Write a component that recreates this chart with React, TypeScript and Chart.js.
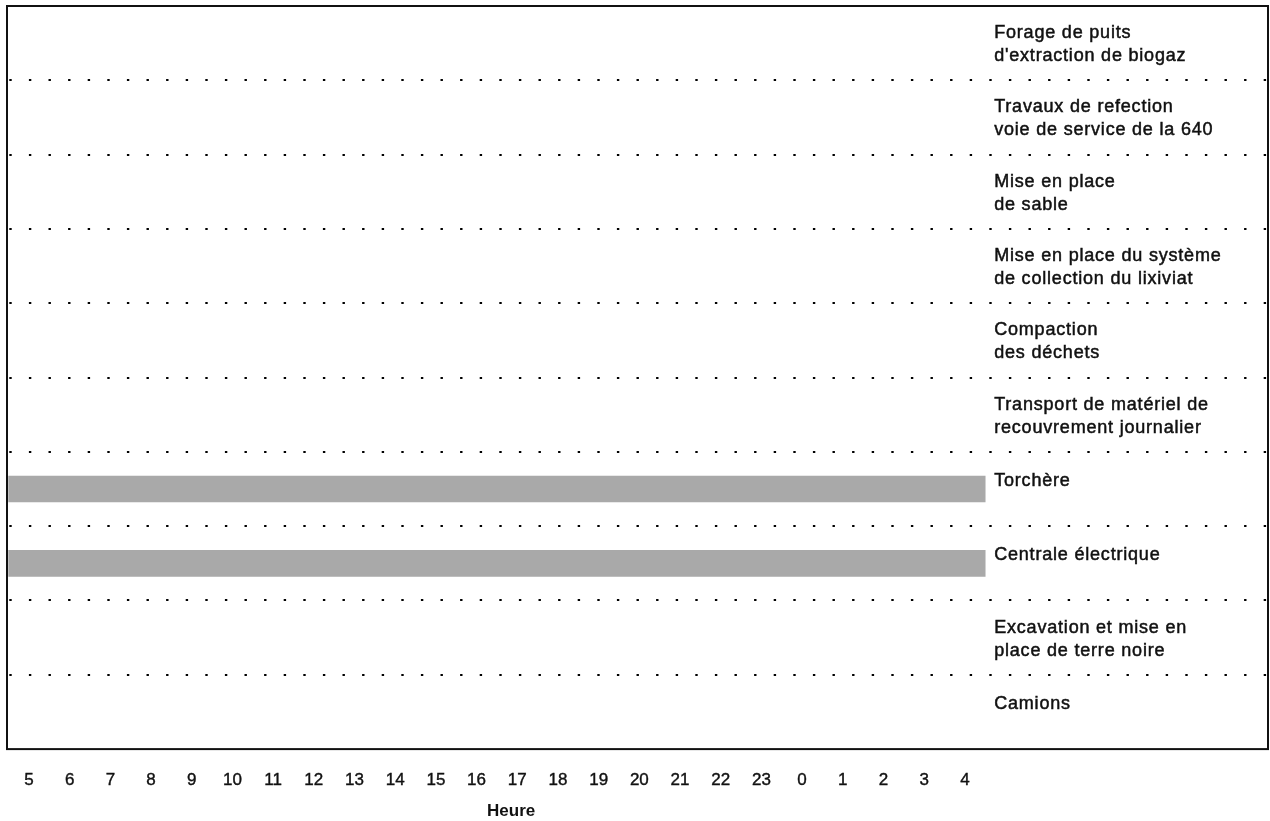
import React, { useEffect, useRef } from "react";
import { Chart, registerables } from "chart.js";

Chart.register(...registerables);

const activities: string[][] = [
  ["Forage de puits", "d'extraction de biogaz"],
  ["Travaux de refection", "voie de service de la 640"],
  ["Mise en place", "de sable"],
  ["Mise en place du système", "de collection du lixiviat"],
  ["Compaction", "des déchets"],
  ["Transport de matériel de", "recouvrement journalier"],
  ["Torchère"],
  ["Centrale électrique"],
  ["Excavation et mise en", "place de terre noire"],
  ["Camions"],
];

// operating span per activity, in hours counted from 5 h (null = none shown)
const spanStart: (number | null)[] = [null, null, null, null, null, null, 0, 0, null, null];
const spanEnd: (number | null)[] = [null, null, null, null, null, null, 24, 24, null, null];

const hourLabels: string[] = [
  "5", "6", "7", "8", "9", "10", "11", "12", "13", "14", "15", "16",
  "17", "18", "19", "20", "21", "22", "23", "0", "1", "2", "3", "4",
];

const axisTitle = "Heure";
const FONT = "'Liberation Sans', Arial, Helvetica, sans-serif";

export default function App() {
  const ref = useRef<HTMLCanvasElement>(null);

  useEffect(() => {
    document.body.style.margin = "0";
    document.body.style.overflow = "hidden";
    const canvas = ref.current;
    if (!canvas) return;

    const data = activities.map((_, i) =>
      spanStart[i] === null || spanEnd[i] === null ? null : [spanStart[i], spanEnd[i]]
    );

    const overlay = {
      id: "overlay",
      afterDatasetsDraw(chart: any) {
        const { ctx, chartArea, scales } = chart;
        const x = scales.x;
        const y = scales.y;
        ctx.save();
        // frame
        ctx.strokeStyle = "#111";
        ctx.lineWidth = 2;
        ctx.strokeRect(chartArea.left, chartArea.top, chartArea.right - chartArea.left, chartArea.bottom - chartArea.top);
        // activity labels
        ctx.fillStyle = "#111";
        ctx.strokeStyle = "#111";
        ctx.lineWidth = 0.5;
        ctx.font = `18px ${FONT}`;
        (ctx as any).letterSpacing = "0.8px";
        ctx.textAlign = "left";
        ctx.textBaseline = "middle";
        const lx = x.getPixelForValue(24) + 9;
        const put = (s: string, yy: number) => {
          ctx.fillText(s, lx, yy);
          ctx.strokeText(s, lx, yy);
        };
        activities.forEach((lines, i) => {
          const yc = y.getPixelForValue(i);
          if (lines.length === 1) {
            put(lines[0], yc - 8);
          } else {
            put(lines[0], yc - 10);
            put(lines[1], yc + 13);
          }
        });
        (ctx as any).letterSpacing = "0px";
        // axis title
        ctx.font = `bold 17px ${FONT}`;
        ctx.textAlign = "center";
        ctx.textBaseline = "alphabetic";
        ctx.fillText(axisTitle, x.getPixelForValue(12.35), chart.height - 5);
        ctx.restore();
      },
    };

    const chart = new Chart(canvas, {
      type: "bar",
      data: {
        labels: activities,
        datasets: [
          {
            data: data as any,
            backgroundColor: "#a9a9a9",
            borderWidth: 0,
            barThickness: 26,
          },
        ],
      },
      options: {
        indexAxis: "y",
        responsive: false,
        animation: false,
        layout: { padding: { left: 7, top: 6, right: 2, bottom: 9.5 } },
        plugins: {
          legend: { display: false },
          tooltip: { enabled: false },
          title: { display: false },
        },
        scales: {
          x: {
            type: "linear",
            min: -0.04,
            max: 30.95,
            grid: { display: false, drawTicks: false },
            border: { display: false },
            afterBuildTicks: (scale: any) => {
              scale.ticks = hourLabels.map((_, i) => ({ value: i + 0.5 }));
            },
            ticks: {
              padding: 21,
              autoSkip: false,
              maxRotation: 0,
              color: "#111",
              textStrokeColor: "#111",
              textStrokeWidth: 0.4,
              font: { family: FONT, size: 17 },
              callback: (_v: any, index: number) => hourLabels[index],
            },
          },
          y: {
            type: "category",
            offset: true,
            grid: {
              offset: true,
              drawTicks: false,
              lineWidth: 2,
              color: (c: any) =>
                c.index === undefined || c.index === 0 ? "rgba(0,0,0,0)" : "#000",
            },
            border: { display: false, dash: [2.4, 17.2], dashOffset: -2.3 },
            ticks: { display: false },
          },
        },
      },
      plugins: [overlay],
    });

    return () => chart.destroy();
  }, []);

  return (
    <div style={{ width: 1270, height: 821, background: "#fff" }}>
      <canvas ref={ref} width={1270} height={821} style={{ display: "block" }} />
    </div>
  );
}
